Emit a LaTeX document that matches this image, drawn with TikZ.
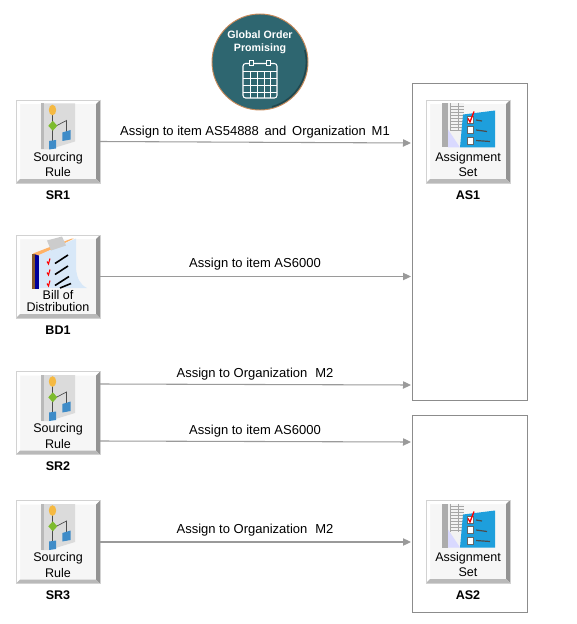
\documentclass[tikz,border=0pt]{standalone}
\usepackage{fontspec}
\setmainfont{Liberation Sans}
\usepackage{tikz}
\usetikzlibrary{arrows.meta,positioning}
\definecolor{linegray}{HTML}{9A9A9A}
\definecolor{boxgray}{HTML}{8C8C8C}
\definecolor{tealfill}{HTML}{2E6670}
\definecolor{ringorange}{HTML}{C98A5A}
\definecolor{iconblue}{HTML}{3F8CC8}
\definecolor{panelblue}{HTML}{1E9FDC}
\definecolor{iconyellow}{HTML}{F5B942}
\definecolor{icongreen}{HTML}{7DBB2E}
\definecolor{pageblue}{HTML}{D8E8F8}
\tikzset{
  tile/.style={minimum width=63pt,minimum height=62.25pt,inner sep=0pt,outer sep=0pt},
  tiletext/.style={align=center,font=\fontsize{9.4pt}{11.4pt}\selectfont,inner sep=0pt},
  tilelabel/.style={font=\fontsize{9.4pt}{11pt}\selectfont\bfseries,inner sep=0pt},
  setbox/.style={draw=boxgray,line width=0.75pt,minimum width=86.25pt,inner sep=0pt,outer sep=0pt},
  link/.style={draw=linegray,line width=0.8pt,shorten >=0.75pt,-{Triangle[length=6pt,width=5.5pt]}},
  linklabel/.style={above,font=\fontsize{9.75pt}{11pt}\selectfont,inner sep=0pt,yshift=2.5pt},
  gopcircle/.style={circle,fill=tealfill,draw=ringorange,line width=0.7pt,minimum size=72pt,inner sep=0pt},
  goptext/.style={align=center,text=white,font=\fontsize{8pt}{9.8pt}\selectfont\bfseries,inner sep=0pt},
  tilebase/.pic={
    \fill[gray!7] (-42,-41.5) rectangle (42,41.5);
    \fill[white] (-42,-41.5) -- (42,-41.5) -- (38,-37.5) -- (-38,-37.5) -- cycle;
    \fill[white] (-42,-41.5) -- (-42,41.5) -- (-38,37.5) -- (-38,-37.5) -- cycle;
    \fill[gray!85] (42,-41.5) -- (42,41.5) -- (38,37.5) -- (38,-37.5) -- cycle;
    \fill[gray!55] (-42,41.5) -- (42,41.5) -- (38,37.5) -- (-38,37.5) -- cycle;
    \draw[gray!35,line width=0.5pt] (-42,-41.5) rectangle (42,41.5);
  },
  sourcingicon/.pic={
    \fill[gray!28] (-17,-38) -- (17,-38) -- (17,0) -- (-9,8) -- (-17,8) -- cycle;
    \fill[gray!55] (-17,-38) rectangle (-14.5,8);
    \draw[gray!60!black,line width=0.5pt] (-5.5,-32) -- (-5.5,2);
    \draw[gray!60!black,line width=0.5pt] (-3,-15) -- (8.5,-21) -- (8.5,-8);
    \fill[iconyellow] (-5.5,-31.5) ellipse (3.7 and 5.3);
    \fill[icongreen] (-9.7,-15.7) -- (-5.2,-20.7) -- (-0.7,-15.7) -- (-5.2,-10.7) -- cycle;
    \fill[iconblue] (-9,-0.5) -- (-2,-1.5) -- (-2,7) -- (-9,8) -- cycle;
    \fill[iconblue] (4.3,-9) -- (12.7,-11.5) -- (12.7,-2) -- (4.3,-0.5) -- cycle;
  },
  distributionicon/.pic={
    \fill[brown!70!black] (-26,-23) -- (-23,-23) -- (-23,12) -- (-26,12) -- cycle;
    \fill[blue!60!black] (-23,-24) -- (-19,-24) -- (-19,12) -- (-23,12) -- cycle;
    \fill[orange!60] (-25,-23) -- (14,-38) -- (16,-38) -- (-19,-21) -- cycle;
    \fill[pageblue] (-19,-21.5) -- (18,-38) -- (18,-8) .. controls (19,2) and (22,8) .. (29,11.5) -- (-19,11.5) -- cycle;
    \fill[gray!40] (-11,-36) -- (4,-40) -- (8,-31) -- (-7,-26) -- cycle;
    \draw[black,line width=1.2pt] (-3,-13) -- (10,-21.5) (-3,-2) -- (10,-10.5) (-3,9) -- (11,0) (2,11.5) -- (13,7);
    \draw[red,line width=0.8pt] (-11,-15) -- (-9.5,-12.5) -- (-8,-18) (-11,-4) -- (-9.5,-1.5) -- (-8,-7) (-11,7) -- (-9.5,9.5) -- (-8,4);
  },
  assignmenticon/.pic={
    \fill[gray!65] (-26,-38) -- (-20,-38) -- (-20,6) -- (-26,6) -- cycle;
    \fill[gray!10] (-20,-38) -- (-4,-38) -- (-4,6) -- (-20,6) -- cycle;
    \foreach \ypos in {-35,-32,...,-11} {\draw[gray!70,line width=0.4pt] (-18,\ypos) -- (-4,\ypos);}
    \draw[gray!70,line width=0.4pt] (-18,-38) -- (-18,-10) (-10,-38) -- (-10,-10);
    \fill[blue!15] (-20,-12) -- (-8,6) -- (-20,6) -- cycle;
    \fill[panelblue] (-5,-27) -- (27,-31) -- (27,6) -- (-8,6) -- cycle;
    \draw[fill=white,draw=black!60,line width=0.3pt] (-1,-25) rectangle (5,-18);
    \draw[fill=white,draw=black!60,line width=0.3pt] (-1,-15) rectangle (5,-8);
    \draw[fill=white,draw=black!60,line width=0.3pt] (-1,-4) rectangle (5,3);
    \draw[red,line width=1pt] (0,-23) -- (2,-19.5) -- (6,-30);
    \draw[black!70,line width=0.9pt] (8,-21.5) -- (14,-20.5) (8,-11.5) -- (19,-10) (8,-1) -- (22,0);
  },
  calendaricon/.pic={
    \draw[white,line width=0.8pt,rounded corners=2pt] (-17,1.5) rectangle (17,36);
    \draw[white,line width=0.6pt] (-17,9.5) -- (17,9.5) (-17,16) -- (17,16) (-17,23) -- (17,23) (-17,30) -- (17,30);
    \draw[white,line width=0.6pt] (-10,9.5) -- (-10,36) (-3,9.5) -- (-3,36) (4,9.5) -- (4,36) (10.5,9.5) -- (10.5,36);
    \fill[tealfill] (-11,-2) rectangle (-7,3.6) (6.5,-2) rectangle (10.5,3.6);
    \draw[white,line width=0.7pt] (-11,-2) rectangle (-7,3.6) (6.5,-2) rectangle (10.5,3.6);
  }
}
\begin{document}
\begin{tikzpicture}[x=0.75pt,y=-0.75pt]
  \useasboundingbox (0,0) rectangle (576,624);
  % circle on top
  \node[gopcircle] (gop) at (260,62) {};
  \draw[black,opacity=0.3,line width=1.2pt] ([shift={(-75:34.8pt)}]gop.center) arc[start angle=-75,end angle=15,radius=34.8pt];
  \pic at (gop.center) {calendaricon};
  \node[goptext] (goptext) at (260,42.5) {Global Order\\Promising};
  % set boxes
  \node[setbox,minimum height=237pt] (as1) at (469.5,242) {};
  \node[setbox,minimum height=147.75pt] (as2) at (469.5,513.5) {};
  % left column
  \node[tile] (sr1) at (58,141.5) {};
  \pic at (sr1.center) {tilebase};
  \pic at (sr1.center) {sourcingicon};
  \node[tiletext] (sr1text) at (58,164.5) {Sourcing\\Rule};
  \node[tilelabel,below=5.5pt of sr1] (sr1lab) {SR1};
  \node[tile] (bd1) at (58,276.5) {};
  \pic at (bd1.center) {tilebase};
  \pic at (bd1.center) {distributionicon};
  \node[tiletext,font=\fontsize{9.4pt}{9pt}\selectfont] (bd1text) at (58,301) {Bill of\\Distribution};
  \node[tilelabel,below=5.5pt of bd1] (bd1lab) {BD1};
  \node[tile] (sr2) at (58,413) {};
  \pic at (sr2.center) {tilebase};
  \pic at (sr2.center) {sourcingicon};
  \node[tiletext] (sr2text) at (58,436) {Sourcing\\Rule};
  \node[tilelabel,below=5.5pt of sr2] (sr2lab) {SR2};
  \node[tile] (sr3) at (58,542) {};
  \pic at (sr3.center) {tilebase};
  \pic at (sr3.center) {sourcingicon};
  \node[tiletext] (sr3text) at (58,565) {Sourcing\\Rule};
  \node[tilelabel,below=5.5pt of sr3] (sr3lab) {SR3};
  % right column
  \node[tile] (at1) at (468,141.5) {};
  \pic at (at1.center) {tilebase};
  \pic at (at1.center) {assignmenticon};
  \node[tiletext] (at1text) at (468,164.5) {Assignment\\Set};
  \node[tilelabel,below=5.5pt of at1] (at1lab) {AS1};
  \node[tile] (at2) at (468,541.5) {};
  \pic at (at2.center) {tilebase};
  \pic at (at2.center) {assignmenticon};
  \node[tiletext] (at2text) at (468,564.5) {Assignment\\Set};
  \node[tilelabel,below=5.5pt of at2] (at2lab) {AS2};
  % connectors
  \coordinate (in1) at (412,143);
  \coordinate (in2) at (412,385);
  \coordinate (in3) at (412,442);
  \draw[link] (sr1.east) -- node[linklabel,xshift=-0.75pt]{Assign to item AS54888\, and\, Organization\, M1} (in1);
  \draw[link] (bd1.east) -- node[linklabel,yshift=1.5pt,xshift=-0.75pt]{Assign to item AS6000} (bd1.east -| as1.west);
  \draw[link] ([yshift=21.75pt]sr2.east) -- node[linklabel,xshift=-0.75pt]{Assign to Organization\,\, M2} (in2);
  \draw[link] ([yshift=-21pt]sr2.east) -- node[linklabel,xshift=-0.75pt]{Assign to item AS6000} (in3);
  \draw[link] (sr3.east) -- node[linklabel,yshift=1.5pt,xshift=-0.75pt]{Assign to Organization\,\, M2} (sr3.east -| as2.west);
\end{tikzpicture}
\end{document}
